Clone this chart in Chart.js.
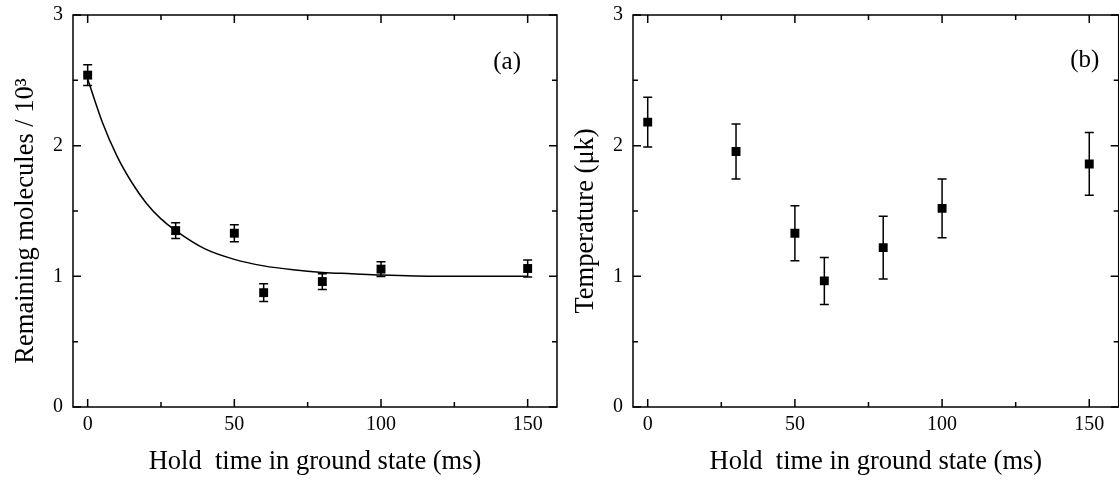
<!DOCTYPE html>
<html>
<head>
<meta charset="utf-8">
<script src="https://cdn.jsdelivr.net/npm/chart.js@4.4.1/dist/chart.umd.min.js"></script>
<style>
  body { margin: 0; background: #fff; width: 1119px; height: 482px; overflow: hidden; position: relative; }
  .panel { position: absolute; top: 0; width: 565px; height: 482px; }
</style>
</head>
<body>
<div class="panel" style="left:0"><canvas id="chartA" width="565" height="482"></canvas></div>
<div class="panel" style="left:560px"><canvas id="chartB" width="565" height="482"></canvas></div>
<script>
// hold times (ms) and measured values
const holdTimes = [0, 30, 50, 60, 80, 100, 150];
const molecules = [2.54, 1.35, 1.33, 0.875, 0.96, 1.055, 1.06];
const moleculesErr = [0.08, 0.06, 0.065, 0.068, 0.06, 0.057, 0.065];
const temperature = [2.18, 1.955, 1.33, 0.965, 1.22, 1.52, 1.86];
const temperatureErr = [0.19, 0.21, 0.21, 0.18, 0.24, 0.225, 0.24];

// fit curve in panel (a)
const fitTimes = [0, 5, 10, 15, 20, 25, 30, 40, 50, 60, 70, 80, 90, 100, 120, 150];
const fitValues = [2.51, 2.18, 1.92, 1.72, 1.56, 1.44, 1.35, 1.21, 1.13, 1.08, 1.05, 1.03, 1.02, 1.01, 1.0, 1.0];

const xMajorTicks = [0, 50, 100, 150];
const xMinorTicks = [25, 75, 125];
const yMajorTicks = [0, 1, 2, 3];
const yMinorTicks = [0.5, 1.5, 2.5];

const serif = "'Liberation Serif', 'Times New Roman', serif";
Chart.defaults.font.family = serif;
Chart.defaults.color = '#000';

const toXY = (xs, ys) => xs.map((v, i) => ({ x: v, y: ys[i] }));

const framePlugin = {
  id: 'frame',
  beforeDatasetsDraw(chart, args, opts) {
    const { ctx, scales: { x, y } } = chart;
    const pts = chart.data.datasets[0].data;
    ctx.save();
    ctx.strokeStyle = '#000';
    ctx.lineWidth = 1.5;
    pts.forEach((p, i) => {
      const px = x.getPixelForValue(p.x);
      const top = y.getPixelForValue(p.y + opts.errors[i]);
      const bot = y.getPixelForValue(p.y - opts.errors[i]);
      ctx.beginPath();
      ctx.moveTo(px, top); ctx.lineTo(px, bot);
      ctx.moveTo(px - 4.5, top); ctx.lineTo(px + 4.5, top);
      ctx.moveTo(px - 4.5, bot); ctx.lineTo(px + 4.5, bot);
      ctx.stroke();
    });
    ctx.restore();
  },
  afterDraw(chart, args, opts) {
    const { ctx, chartArea: a, scales: { x, y } } = chart;
    ctx.save();
    ctx.strokeStyle = '#000';
    ctx.lineWidth = 1.5;
    ctx.strokeRect(a.left, a.top, a.right - a.left, a.bottom - a.top);
    ctx.beginPath();
    const xt = (v, len) => {
      const px = x.getPixelForValue(v);
      ctx.moveTo(px, a.bottom); ctx.lineTo(px, a.bottom - len);
      ctx.moveTo(px, a.top); ctx.lineTo(px, a.top + len);
    };
    const yt = (v, len) => {
      const py = y.getPixelForValue(v);
      ctx.moveTo(a.left, py); ctx.lineTo(a.left + len, py);
      ctx.moveTo(a.right, py); ctx.lineTo(a.right - len, py);
    };
    xMajorTicks.forEach(v => xt(v, 8));
    xMinorTicks.forEach(v => xt(v, 5));
    yMajorTicks.forEach(v => yt(v, 8));
    yMinorTicks.forEach(v => yt(v, 5));
    ctx.stroke();
    ctx.fillStyle = '#000';
    ctx.font = '25px ' + serif;
    ctx.textAlign = 'center';
    ctx.textBaseline = 'middle';
    ctx.fillText(opts.label, x.getPixelForValue(opts.labelAt[0]), y.getPixelForValue(opts.labelAt[1]));
    ctx.restore();
  }
};

function makeChart(id, datasets, yTitle, errors, label, labelAt, padRight) {
  return new Chart(document.getElementById(id), {
    type: 'scatter',
    data: { datasets: datasets },
    options: {
      responsive: false,
      animation: false,
      layout: { padding: { left: 0, right: padRight, top: 15, bottom: 0 } },
      plugins: {
        legend: { display: false },
        tooltip: { enabled: false },
        frame: { errors: errors, label: label, labelAt: labelAt }
      },
      scales: {
        x: {
          type: 'linear', min: -5, max: 160,
          afterBuildTicks: s => { s.ticks = xMajorTicks.map(v => ({ value: v })); },
          afterFit: s => { s.height = 75; s.paddingLeft = 0; s.paddingRight = 0; },
          grid: { display: false, drawTicks: false },
          border: { display: false },
          ticks: { color: '#000', font: { size: 20 }, padding: 6, maxRotation: 0 },
          title: { display: true, text: 'Hold  time in ground state (ms)', color: '#000',
                   font: { size: 26.5 }, padding: { top: 0, bottom: 4 } }
        },
        y: {
          type: 'linear', min: 0, max: 3,
          afterBuildTicks: s => { s.ticks = yMajorTicks.map(v => ({ value: v })); },
          afterFit: s => { s.width = 73; s.paddingTop = 0; s.paddingBottom = 0; },
          grid: { display: false, drawTicks: false },
          border: { display: false },
          ticks: { color: '#000', font: { size: 20 }, padding: 10 },
          title: { display: true, text: yTitle, color: '#000',
                   font: { size: 26.5 }, padding: { top: 10, bottom: 0 } }
        }
      }
    },
    plugins: [framePlugin]
  });
}

const points = d => ({
  data: d, pointStyle: 'rect', pointRadius: 6.3, pointHoverRadius: 6.3,
  backgroundColor: '#000', borderColor: '#000', borderWidth: 0, showLine: false
});

makeChart('chartA', [
  points(toXY(holdTimes, molecules)),
  { type: 'line', data: toXY(fitTimes, fitValues), borderColor: '#000', borderWidth: 1.5,
    pointRadius: 0, cubicInterpolationMode: 'monotone', fill: false }
], 'Remaining molecules / 10³   ', moleculesErr, '(a)', [143, 2.64], 8);

makeChart('chartB', [
  points(toXY(holdTimes, temperature))
], 'Temperature (μk)   ', temperatureErr, '(b)', [148.5, 2.65], 4);
</script>
</body>
</html>
